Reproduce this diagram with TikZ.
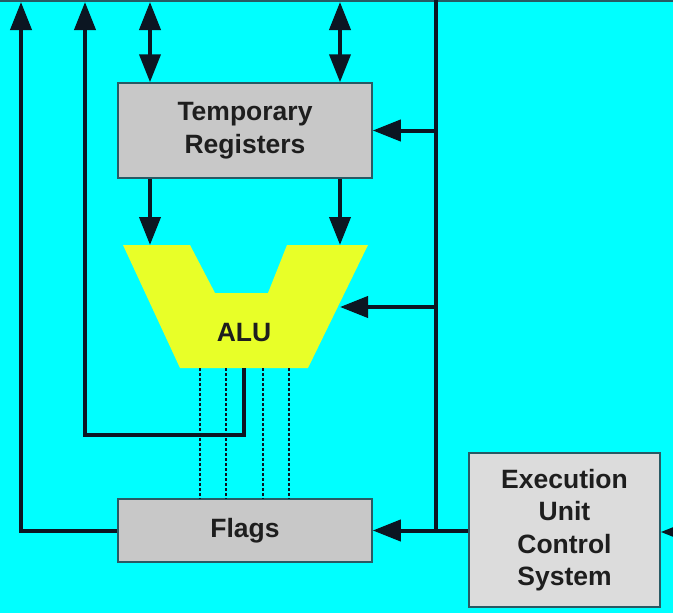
\documentclass[tikz,border=0pt]{standalone}
\usepackage{fontspec}
\setmainfont{Liberation Sans}
\usetikzlibrary{arrows.meta}
\definecolor{bg}{RGB}{0,255,255}
\definecolor{ln}{RGB}{12,22,34}
\definecolor{txt}{RGB}{30,30,30}
\definecolor{boxg}{RGB}{200,200,200}
\definecolor{boxl}{RGB}{220,220,220}
\definecolor{bord}{RGB}{40,90,100}
\definecolor{aluy}{RGB}{232,255,40}
\tikzset{
  box/.style={draw=bord, line width=1.5pt, fill=boxg, align=center, inner sep=0pt,
    font=\fontsize{26.5}{32.5}\selectfont\bfseries, text=txt},
  wire/.style={draw=ln, line width=4pt},
  arr/.style={wire, -{Triangle[length=28pt,width=21pt]}},
  darr/.style={wire, {Triangle[length=28pt,width=21pt]}-{Triangle[length=28pt,width=21pt]}},
  dots/.style={draw=ln, line width=2pt, dash pattern=on 3pt off 2pt},
}
\begin{document}
\begin{tikzpicture}[x=1pt,y=-1pt]
\useasboundingbox (0,0) rectangle (673,613);
\fill[bg] (0,0) rectangle (673,613);
\draw[bord, line width=1.5pt] (0,0.75) -- (673,0.75);

% ALU shape
\fill[aluy] (123,245) -- (190,245) -- (215,293) -- (268,293) -- (287,245) -- (368,245)
  -- (308,368) -- (180,368) -- cycle;
\node[font=\fontsize{26.5}{30}\selectfont\bfseries, text=txt] (alu) at (244,333) {ALU};

% boxes
\node[box, minimum width=254pt, minimum height=95pt] (tr) at (245,130.5) {Temporary\\Registers};
\node[box, minimum width=254pt, minimum height=63pt] (fl) at (245,530.5) {Flags};
\node[box, fill=boxl, minimum width=191pt, minimum height=154pt] (ex) at (564.5,530) {Execution\\Unit\\Control\\System};

% coordinates
\coordinate (ta) at (150,2);
\coordinate (tb) at (340,2);
\coordinate (aluA) at (150,245);
\coordinate (aluB) at (340,245);
\coordinate (busTop) at (436,0);
\coordinate (busBot) at (436,530);
\coordinate (aluR) at (340,307);
\coordinate (outA) at (21,2);
\coordinate (outB) at (85,2);
\coordinate (aluOut) at (244,368);
\coordinate (corner) at (244,435);
\coordinate (rin) at (673,532);

% bidirectional arrows on top
\draw[darr] (ta) -- (tr.north -| ta);
\draw[darr] (tb) -- (tr.north -| tb);
% down arrows to ALU
\draw[arr] (tr.south -| ta) -- (aluA);
\draw[arr] (tr.south -| tb) -- (aluB);

% control bus
\draw[wire] (busTop) -- (busBot);
\draw[arr] (busTop |- tr.east) -- (tr.east);
\draw[arr] (busTop |- aluR) -- (aluR);
\draw[arr] (ex.west |- fl.east) -- (fl.east);
\draw[arr] (rin) -- (ex.east |- rin);

% flags out
\draw[arr] (fl.west) -- (fl.west -| outA) -- (outA);
% ALU out
\draw[arr] (aluOut) -- (corner) -- (corner -| outB) -- (outB);

% dotted flag lines
\foreach \x in {200,226,263,289}
  \draw[dots] (\x,368) -- (fl.north -| \x,0);
\end{tikzpicture}
\end{document}
